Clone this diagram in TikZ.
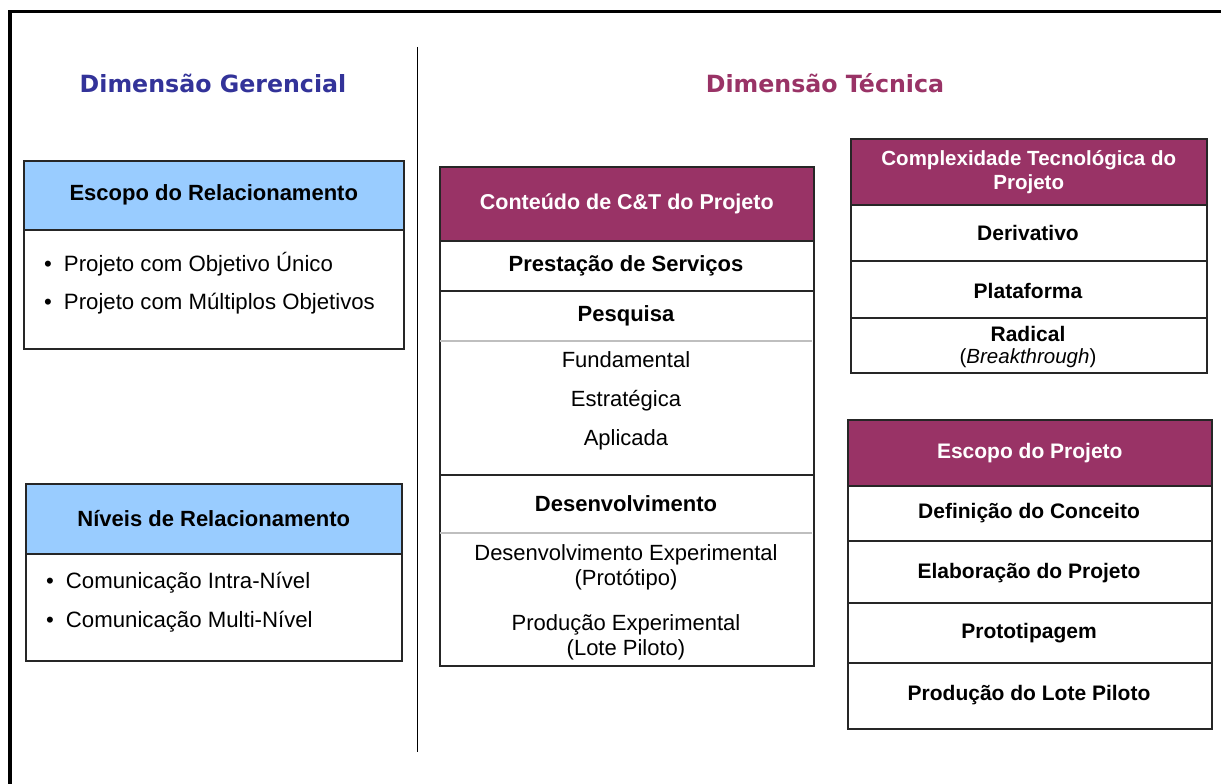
\documentclass[tikz,border=0pt]{standalone}
\usepackage{fontspec}
\setmainfont{Liberation Sans}
\newfontfamily\titlefont{DejaVu Sans}
\definecolor{gerblue}{HTML}{333399}
\definecolor{tecred}{HTML}{993366}
\definecolor{headblue}{HTML}{99CCFF}

\begin{document}
\begin{tikzpicture}[x=1pt,y=-1pt,
    frame/.style={draw=black!85, line width=1.5pt, anchor=north west, inner sep=0pt},
    bluehead/.style={frame, fill=headblue, font=\bfseries\fontsize{22}{26}\selectfont},
    redhead/.style={frame, fill=tecred, text=white, align=center, font=\bfseries\fontsize{21.5}{24}\selectfont},
    dimtitle/.style={font=\titlefont\bfseries\fontsize{23.7}{28}\selectfont},
    item/.style={anchor=west, inner sep=0pt, yshift=-1.5pt, font=\fontsize{22.2}{26}\selectfont},
    rowtext/.style={align=center, yshift=-1.5pt, font=\bfseries\fontsize{22}{26}\selectfont},
    smallrow/.style={align=center, yshift=-1.5pt, font=\bfseries\fontsize{21}{25}\selectfont},
    subtext/.style={align=center, yshift=-1.5pt, font=\fontsize{22}{25}\selectfont},
    rowline/.style={draw=black!85, line width=1.5pt},
    softline/.style={draw=black!25, line width=1.2pt}]

    % Canvas and outer frame
    \useasboundingbox (0,0) rectangle (1221,784);
    \draw[line width=3.5pt] (10,784) -- (10,11.5) -- (1221,11.5);
    \draw[line width=1pt] (417,47) -- (417,752); % divider

    % Titles
    \node[dimtitle, text=gerblue] (gertitle) at (213,83) {Dimensão Gerencial};
    \node[dimtitle, text=tecred] (tectitle) at (825,83) {Dimensão Técnica};

    % Escopo do Relacionamento
    \node[frame, minimum width=380pt, minimum height=188pt] (escrel) at (23,160) {};
    \node[bluehead, minimum width=380pt, minimum height=69pt] (escrelhead) at (23,160) {Escopo do Relacionamento};
    \node[item] (escrela) at (44,263) {\textbullet\hspace{12pt}Projeto com Objetivo Único};
    \node[item] (escrelb) at (44,302) {\textbullet\hspace{12pt}Projeto com Múltiplos Objetivos};

    % Niveis de Relacionamento
    \node[frame, minimum width=376pt, minimum height=177pt] (nivrel) at (25,483) {};
    \node[bluehead, minimum width=376pt, minimum height=70pt] (nivrelhead) at (25,483) {Níveis de Relacionamento};
    \node[item] (nivrela) at (46,581) {\textbullet\hspace{12pt}Comunicação Intra-Nível};
    \node[item] (nivrelb) at (46,620) {\textbullet\hspace{12pt}Comunicação Multi-Nível};

    % Conteudo de C&T do Projeto
    \node[frame, minimum width=374pt, minimum height=499pt] (conteudo) at (439,166) {};
    \node[redhead, minimum width=374pt, minimum height=74pt] (conthead) at (439,166) {Conteúdo de C\&T do Projeto};
    \foreach \y in {291,475} \draw[rowline] (439,\y) -- (813,\y);
    \foreach \y in {341,533} \draw[softline] (440,\y) -- (812,\y);
    \node[rowtext] (prest) at (626,264) {Prestação de Serviços};
    \node[rowtext] (pesq) at (626,314) {Pesquisa};
    \node[subtext] (fund) at (626,358) {Fundamental};
    \node[subtext] (estr) at (626,399) {Estratégica};
    \node[subtext] (aplic) at (626,438) {Aplicada};
    \node[rowtext] (desenv) at (626,502) {Desenvolvimento};
    \node[subtext] (desexp) at (626,566) {Desenvolvimento Experimental\\(Protótipo)};
    \node[subtext] (prodexp) at (626,636) {Produção Experimental\\(Lote Piloto)};

    % Complexidade Tecnologica
    \node[frame, minimum width=356pt, minimum height=234pt] (complex) at (850,138) {};
    \node[redhead, minimum width=356pt, minimum height=66pt, font=\bfseries\fontsize{20.5}{24}\selectfont] (comphead) at (850,138) {Complexidade Tecnológica do\\Projeto};
    \foreach \y in {261,318} \draw[rowline] (850,\y) -- (1206,\y);
    \node[smallrow] (deriv) at (1028,231) {Derivativo};
    \node[smallrow] (plataf) at (1028,289) {Plataforma};
    \node[smallrow] (radical) at (1028,332) {Radical};
    \node[subtext, font=\fontsize{20.5}{24}\selectfont] (breakt) at (1028,357) {(\textit{Breakthrough})};

    % Escopo do Projeto
    \node[frame, minimum width=364pt, minimum height=309pt] (escproj) at (847,419) {};
    \node[redhead, minimum width=364pt, minimum height=66pt, font=\bfseries\fontsize{21}{24}\selectfont] (escprojhead) at (847,419) {Escopo do Projeto};
    \foreach \y in {541,603,663} \draw[rowline] (847,\y) -- (1211,\y);
    \node[smallrow] (defin) at (1029,512) {Definição do Conceito};
    \node[smallrow] (elab) at (1029,572) {Elaboração do Projeto};
    \node[smallrow] (proto) at (1029,632) {Prototipagem};
    \node[smallrow] (lote) at (1029,694) {Produção do Lote Piloto};

\end{tikzpicture}
\end{document}
